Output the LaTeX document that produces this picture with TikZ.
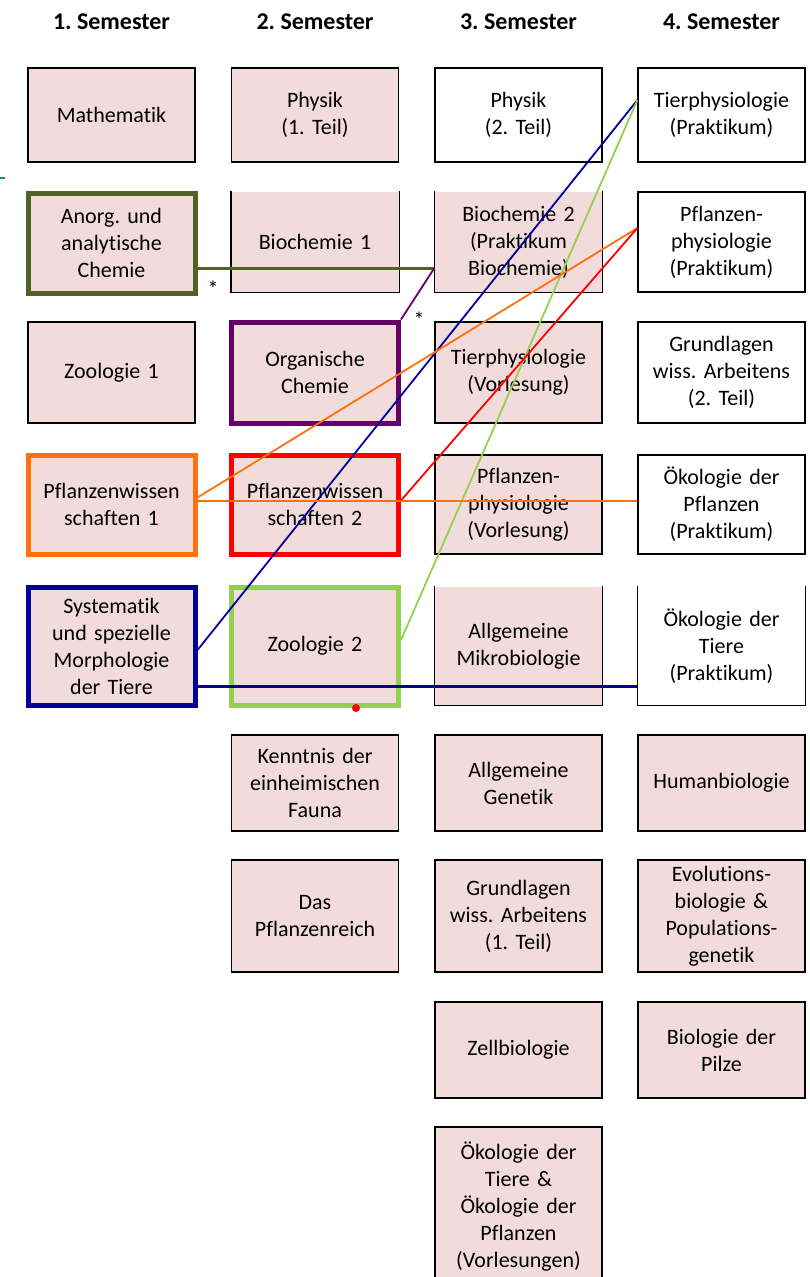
\documentclass[tikz,border=0pt]{standalone}
\usepackage{fontspec}
\setmainfont[Ligatures=NoCommon]{Carlito}
\usepackage{xcolor}
\usetikzlibrary{calc}
\usetikzlibrary{positioning}
\frenchspacing

\definecolor{boxpink}{RGB}{242,220,219}
\definecolor{olivegreen}{RGB}{79,98,40}
\definecolor{orgpurple}{RGB}{102,0,102}
\definecolor{pflorange}{RGB}{255,112,10}
\definecolor{zoogreen}{RGB}{146,208,80}
\definecolor{sysblue}{RGB}{0,0,150}
\definecolor{markteal}{RGB}{0,150,110}

\tikzset{
  box/.style={draw, line width=1.2pt, fill=boxpink, minimum width=167pt,
    text width=165pt, align=center, inner sep=0pt,
    font=\fontsize{22}{27}\selectfont},
  prak/.style={fill=white},
  notop/.style={draw=none},
  hl/.style={draw=#1, line width=5pt},
  head/.style={font=\fontsize{24}{28}\selectfont\bfseries},
  star/.style={font=\fontsize{22}{22}\selectfont, inner sep=0pt},
  link/.style={line width=1.8pt}
}

\begin{document}
\begin{tikzpicture}[x=1pt, y=-1pt, >=latex]
\useasboundingbox (0,0) rectangle (809,1277);

%Semester
\foreach \i/\x in {1/111.5,2/315,3/518.5,4/721.5}
  \node[head] (sem\i) at (\x, 22) {\i. Semester};

%1. Semester
\begin{scope}
  \node[box, minimum height=94pt] (mathe) at (111.5, 115) {Mathematik};
  \node[box, hl=olivegreen, minimum height=100pt] (anorg) at (111.5, 243) {Anorg. und\\analytische\\Chemie};
  \node[box, minimum height=101pt] (zoo1) at (111.5, 372.5) {Zoologie 1};
  \node[box, hl=pflorange, minimum height=99pt] (pflw1) at (111.5, 504.5) {Pflanzenwissen\\schaften 1};
  \node[box, hl=sysblue, minimum height=118pt] (syst) at (111.5, 646) {Systematik\\und spezielle\\Morphologie\\der Tiere};
\end{scope}

%2. Semester
\begin{scope}
  \node[box, minimum height=94pt] (phys1) at (315, 115) {Physik\\(1. Teil)};
  \node[box, notop, minimum height=100pt] (bio1) at (315, 242) {Biochemie 1};
  \node[box, hl=orgpurple, minimum height=101pt] (orgch) at (315, 372.5) {Organische\\Chemie};
  \node[box, hl=red, minimum height=99pt] (pflw2) at (315, 504.5) {Pflanzenwissen\\schaften 2};
  \node[box, hl=zoogreen, minimum height=118pt] (zoo2) at (315, 646) {Zoologie 2};
  \node[box, minimum height=96pt] (fauna) at (315, 783) {Kenntnis der\\einheimischen\\Fauna};
  \node[box, minimum height=112pt] (preich) at (315, 916) {Das\\Pflanzenreich};
\end{scope}

%3. Semester
\begin{scope}
  \node[box, prak, minimum height=94pt] (phys2) at (518.5, 115) {Physik\\(2. Teil)};
  \node[box, notop, minimum height=100pt] (bio2) at (518.5, 242) {Biochemie 2\\(Praktikum\\Biochemie)};
  \node[box, minimum height=101pt] (tierv) at (518.5, 372.5) {Tierphysiologie\\(Vorlesung)};
  \node[box, minimum height=99pt] (pflpv) at (518.5, 504.5) {Pflanzen-\\physiologie\\(Vorlesung)};
  \node[box, notop, minimum height=118pt] (mikro) at (518.5, 646) {Allgemeine\\Mikrobiologie};
  \node[box, minimum height=96pt] (genet) at (518.5, 783) {Allgemeine\\Genetik};
  \node[box, minimum height=112pt] (gwa1) at (518.5, 916) {Grundlagen\\wiss. Arbeitens\\(1. Teil)};
  \node[box, minimum height=96pt] (zell) at (518.5, 1050) {Zellbiologie};
  \node[box, minimum height=159pt] (oekvl) at (518.5, 1206.5) {Ökologie der\\Tiere \&\\Ökologie der\\Pflanzen\\(Vorlesungen)};
\end{scope}

%4. Semester
\begin{scope}
  \node[box, prak, minimum height=94pt] (tierp) at (721.5, 115) {Tierphysiologie\\(Praktikum)};
  \node[box, prak, minimum height=100pt] (pflpp) at (721.5, 242) {Pflanzen-\\physiologie\\(Praktikum)};
  \node[box, prak, minimum height=101pt] (gwa2) at (721.5, 372.5) {Grundlagen\\wiss. Arbeitens\\(2. Teil)};
  \node[box, prak, minimum height=99pt] (oekpfl) at (721.5, 504.5) {Ökologie der\\Pflanzen\\(Praktikum)};
  \node[box, prak, notop, minimum height=118pt] (oektier) at (721.5, 646) {Ökologie der\\Tiere\\(Praktikum)};
  \node[box, minimum height=96pt] (human) at (721.5, 783) {Humanbiologie};
  \node[box, minimum height=112pt] (evol) at (721.5, 916) {Evolutions-\\biologie \&\\Populations-\\genetik};
  \node[box, minimum height=96pt] (pilze) at (721.5, 1050) {Biologie der\\Pilze};
\end{scope}

%open tops
\foreach \n in {bio1, bio2, mikro, oektier}
  \draw[line width=1.2pt] (\n.north west) |- (\n.south east) -- (\n.north east);

%Chemie
\coordinate (chemA) at ([yshift=-25pt]anorg.east);
\coordinate (chemB) at (chemA -| bio2.west);
\draw[olivegreen, line width=3pt] (chemA) -- (chemB);
\draw[orgpurple, link] (orgch.north east) -- (chemB);
\node[star] (star1) at (213, 289) {*};
\node[star] (star2) at (419, 320) {*};

%Tiere
\coordinate (tierA) at ([yshift=15pt]tierp.west);
\draw[sysblue, link] ([yshift=-4pt]syst.east) -- (tierA);
\draw[zoogreen, link] ([yshift=6pt]zoo2.east) -- (tierA);
\coordinate (sysA) at ([yshift=-40pt]syst.east);
\draw[sysblue, line width=3pt] (sysA) -- (sysA -| oektier.west);

%Pflanzen
\coordinate (pflA) at ([yshift=14pt]pflpp.west);
\draw[pflorange, link] ([yshift=7pt]pflw1.east) -- (pflA);
\draw[red, link] ([yshift=4pt]pflw2.east) -- (pflA);
\coordinate (pflB) at ([yshift=4pt]pflw1.east);
\draw[pflorange, line width=2pt] (pflB) -- (pflB -| oekpfl.west);

\fill[red] (356, 708) circle (4pt);
\draw[markteal, line width=1.5pt] (0, 178) -- (5, 178);
\end{tikzpicture}
\end{document}
